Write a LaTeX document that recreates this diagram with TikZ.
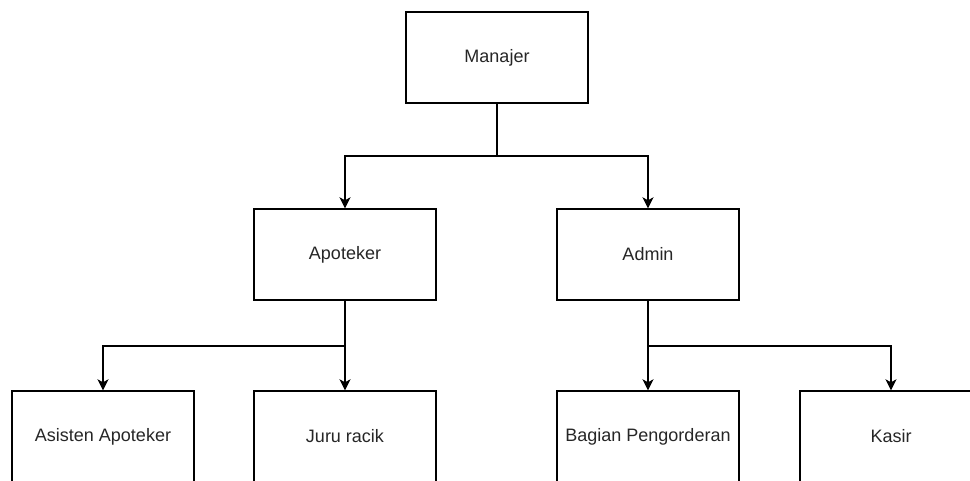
\documentclass[tikz,border=0pt]{standalone}
\usepackage{fontspec}
\setmainfont{Liberation Sans}
\usetikzlibrary{arrows.meta}
\begin{document}
\begin{tikzpicture}[x=1pt,y=-1pt,
  orgbox/.style={draw=black,line width=1.4pt,minimum width=182pt,minimum height=91pt,inner sep=0pt,font=\fontsize{18}{21}\selectfont,text=black!85},
  conn/.style={draw=black,line width=1.4pt},
  arr/.style={conn,-{Stealth[length=11pt,width=11pt,inset=3pt]}}]
\useasboundingbox (0,0) rectangle (970,481);
\clip (0,0) rectangle (970,481);
\node[orgbox] (man) at (497,57.5) {Manajer};
\node[orgbox] (apo) at (345,254.5) {Apoteker};
\node[orgbox] (adm) at (648,254.5) {Admin};
\node[orgbox] (asi) at (103,436.5) {Asisten Apoteker};
\node[orgbox] (jur) at (345,436.5) {Juru racik};
\node[orgbox] (bag) at (648,436.5) {Bagian Pengorderan};
\node[orgbox] (kas) at (891,436.5) {Kasir};
\coordinate (j1) at (497,156);
\coordinate (j2) at (345,346);
\coordinate (j3) at (648,346);
\draw[conn] (man.south) -- (j1);
\draw[arr] (j1) -| (apo.north);
\draw[arr] (j1) -| (adm.north);
\draw[conn] (apo.south) -- (j2);
\draw[arr] (j2) -| (asi.north);
\draw[arr] (j2) -- (jur.north);
\draw[conn] (adm.south) -- (j3);
\draw[arr] (j3) -- (bag.north);
\draw[arr] (j3) -| (kas.north);
\end{tikzpicture}
\end{document}
